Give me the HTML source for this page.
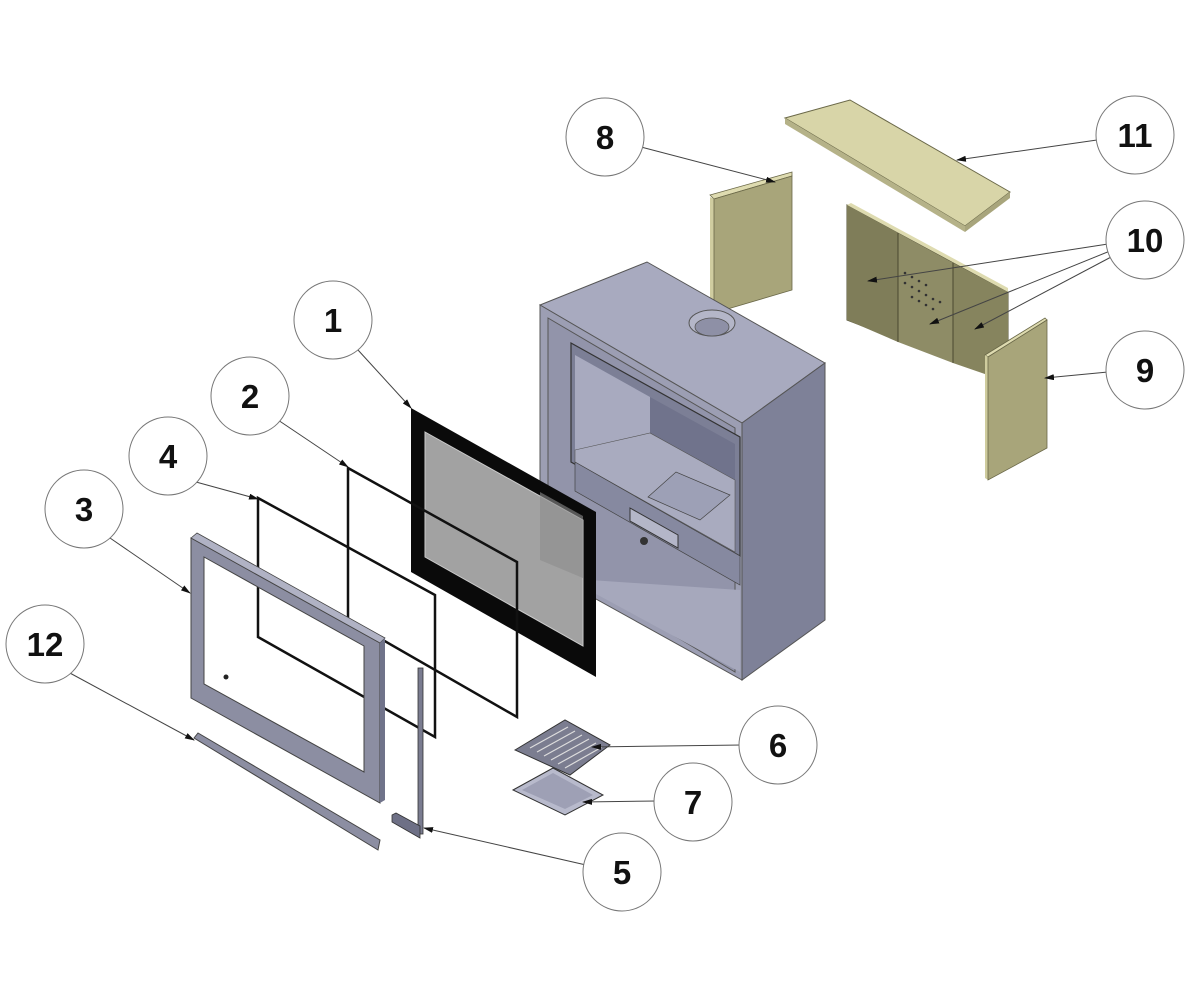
<!DOCTYPE html>
<html><head><meta charset="utf-8"><style>
html,body{margin:0;padding:0;background:#fff;}
svg{display:block}
text{font-family:"Liberation Sans",sans-serif;font-weight:bold;font-size:33px;fill:#111;text-anchor:middle}
</style></head><body>
<svg width="1200" height="1000" viewBox="0 0 1200 1000" xmlns="http://www.w3.org/2000/svg">
<defs>
<marker id="a" markerWidth="10" markerHeight="6" refX="9" refY="3" orient="auto" markerUnits="userSpaceOnUse"><path d="M0,0 L10,3 L0,6 Z" fill="#111"/></marker>
</defs>

<polygon points="785,118 850,100 1010,192 965,226" fill="#d8d5a8" stroke="#6a6848" stroke-width="1"/>
<polygon points="785,118 965,226 965,232 785,124" fill="#b5b288"/>
<polygon points="965,226 1010,192 1010,198 965,232" fill="#a8a57c"/>

<polygon points="710,195 792,172 792,176 714,199" fill="#dedbb0" stroke="#6a6848" stroke-width="0.8"/>
<polygon points="710,197 714,199 714,313 710,312" fill="#d0cda0"/>
<polygon points="714,199 792,176 792,290 714,313" fill="#a8a57a" stroke="#6a6848" stroke-width="0.8"/>

<polygon points="847,205 1008,292 1008,382 847,320" fill="#8a8862" stroke="#55533a" stroke-width="1"/>
<polygon points="847,205 851,203 1008,288 1008,292" fill="#dedbb0"/>
<polygon points="847,205 898,233 898,342 847,320" fill="#7f7d59"/>
<polygon points="898,233 953,263 953,363 898,342" fill="#8e8c66"/>
<polygon points="953,263 1008,292 1008,382 953,363" fill="#86845e"/>
<line x1="898" y1="233" x2="898" y2="342" stroke="#4a4830"/>
<line x1="953" y1="263" x2="953" y2="363" stroke="#4a4830"/>
<g fill="#333">
<circle cx="905" cy="273" r="1.3"/><circle cx="912" cy="277" r="1.3"/><circle cx="919" cy="281" r="1.3"/><circle cx="926" cy="285" r="1.3"/>
<circle cx="905" cy="283" r="1.3"/><circle cx="912" cy="287" r="1.3"/><circle cx="919" cy="291" r="1.3"/><circle cx="926" cy="295" r="1.3"/><circle cx="933" cy="299" r="1.3"/>
<circle cx="912" cy="297" r="1.3"/><circle cx="919" cy="301" r="1.3"/><circle cx="926" cy="305" r="1.3"/><circle cx="933" cy="309" r="1.3"/><circle cx="940" cy="302" r="1.3"/>
</g>

<polygon points="985,355 1045,318 1047,320 988,357" fill="#dedbb0" stroke="#6a6848" stroke-width="0.8"/>
<polygon points="985,355 988,357 988,480 985,478" fill="#cfcc9e"/>
<polygon points="988,357 1047,320 1047,448 988,480" fill="#a8a57a" stroke="#6a6848" stroke-width="0.8"/>

<polygon points="540,305 647,262 825,363 742,423" fill="#a8aabf" stroke="#555" stroke-width="1"/>
<polygon points="742,423 825,363 825,620 742,680" fill="#7e8198" stroke="#555" stroke-width="1"/>
<polygon points="540,305 742,423 742,680 540,568" fill="#9c9eb3" stroke="#555" stroke-width="1"/>
<polygon points="548,318 735,428 735,672 548,560" fill="#9294aa" stroke="#555" stroke-width="1"/>
<polygon points="571,343 740,437 740,556 571,462" fill="#7c7f96" stroke="#333" stroke-width="1.2"/>
<polygon points="575,355 650,397 650,437 575,450" fill="#a8aabf"/>
<polygon points="650,397 735,444 735,525 650,437" fill="#70738c"/>
<polygon points="575,450 650,433 735,480 735,552 575,462" fill="#a9abbf" stroke="#555" stroke-width="0.6"/>
<polygon points="648,497 676,472 730,495 700,520" fill="#9da0b6" stroke="#444" stroke-width="0.7"/>
<polygon points="575,462 740,556 740,585 575,491" fill="#8689a0" stroke="#444" stroke-width="0.7"/>
<polygon points="630,508 678,535 678,548 630,521" fill="#b4b6c8" stroke="#333" stroke-width="1"/>
<polygon points="548,560 590,580 740,590 740,672 548,568" fill="#a6a8bc"/>
<circle cx="644" cy="541" r="4" fill="#333"/>
<ellipse cx="712" cy="323" rx="23" ry="13" fill="#b4b6c8" stroke="#555" stroke-width="1"/>
<ellipse cx="712" cy="327" rx="17" ry="9" fill="#8e90a6" stroke="#555" stroke-width="0.8"/>

<polygon points="411,408 596,512 596,677 411,572" fill="#0a0a0a"/>
<polygon points="425,432 583,520 583,646 425,557" fill="#a2a2a2" stroke="#ccc" stroke-width="1"/>
<polygon points="540,492 583,516 583,578 540,560" fill="#8c8c8c" opacity="0.6"/>

<polygon points="348,468 517,562 517,717 348,620" fill="none" stroke="#111" stroke-width="2.5"/>
<polygon points="258,498 435,595 435,737 258,637" fill="none" stroke="#111" stroke-width="2.5"/>

<path fill-rule="evenodd" d="M191,538 L380,643 L380,803 L191,698 Z M204,557 L364,646 L364,772 L204,684 Z" fill="#8c8ea2" stroke="#444" stroke-width="1"/>
<polygon points="191,538 197,533 385,638 380,643" fill="#b0b2c4" stroke="#444" stroke-width="0.8"/>
<polygon points="380,643 385,638 385,800 380,803" fill="#70738a"/>
<circle cx="226" cy="677" r="2.5" fill="#222"/>

<polygon points="194,738 198,733 380,840 378,850" fill="#8c8ea2" stroke="#444" stroke-width="1"/>

<rect x="418" y="668" width="5" height="166" fill="#7a7c90" stroke="#333" stroke-width="0.8"/>
<polygon points="392,815 396,813 420,826 420,838 392,822" fill="#6e7086" stroke="#333" stroke-width="0.8"/>

<polygon points="515,750 565,720 610,745 570,775" fill="#7b7d90" stroke="#333" stroke-width="1"/>
<g stroke="#ddd" stroke-width="1.2">
<line x1="530" y1="748" x2="568" y2="727"/><line x1="537" y1="752" x2="575" y2="731"/><line x1="544" y1="756" x2="582" y2="735"/><line x1="551" y1="760" x2="589" y2="739"/><line x1="558" y1="764" x2="596" y2="743"/><line x1="565" y1="768" x2="602" y2="747"/>
</g>
<polygon points="513,790 553,768 603,795 565,815" fill="#b8bacc" stroke="#333" stroke-width="1"/>
<polygon points="522,790 553,773 593,795 565,809" fill="#9ea0b5"/>

<g stroke="#444" stroke-width="1" fill="none" marker-end="url(#a)">
<line x1="641" y1="147" x2="775" y2="182"/>
<line x1="1097" y1="140" x2="957" y2="160"/>
<line x1="1108" y1="244" x2="868" y2="281"/>
<line x1="1110" y1="251" x2="930" y2="324"/>
<line x1="1113" y1="256" x2="975" y2="329"/>
<line x1="1108" y1="372" x2="1045" y2="378"/>
<line x1="358" y1="350" x2="411" y2="408"/>
<line x1="278" y1="420" x2="348" y2="467"/>
<line x1="196" y1="482" x2="258" y2="499"/>
<line x1="110" y1="538" x2="190" y2="593"/>
<line x1="68" y1="672" x2="194" y2="740"/>
<line x1="742" y1="745" x2="592" y2="747"/>
<line x1="657" y1="801" x2="583" y2="802"/>
<line x1="586" y1="865" x2="424" y2="828"/>
</g>

<g fill="#fff" stroke="#777" stroke-width="1">
<circle cx="605" cy="137" r="39"/><circle cx="1135" cy="135" r="39"/><circle cx="1145" cy="240" r="39"/><circle cx="1145" cy="370" r="39"/>
<circle cx="333" cy="320" r="39"/><circle cx="250" cy="396" r="39"/><circle cx="168" cy="456" r="39"/><circle cx="84" cy="509" r="39"/>
<circle cx="45" cy="644" r="39"/><circle cx="778" cy="745" r="39"/><circle cx="693" cy="802" r="39"/><circle cx="622" cy="872" r="39"/>
</g>
<text x="605" y="149">8</text><text x="1135" y="147">11</text><text x="1145" y="252">10</text><text x="1145" y="382">9</text>
<text x="333" y="332">1</text><text x="250" y="408">2</text><text x="168" y="468">4</text><text x="84" y="521">3</text>
<text x="45" y="656">12</text><text x="778" y="757">6</text><text x="693" y="814">7</text><text x="622" y="884">5</text>
</svg>
</body></html>
